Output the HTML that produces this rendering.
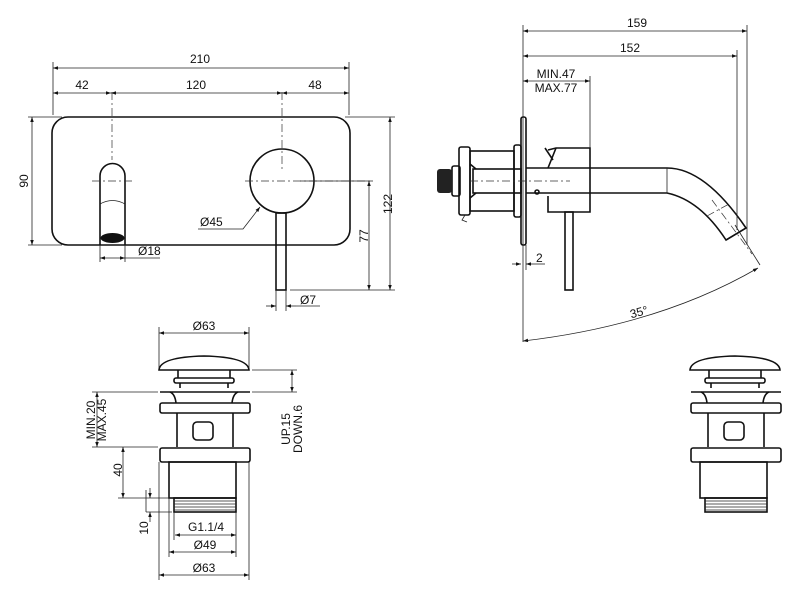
<!DOCTYPE html>
<html><head><meta charset="utf-8"><style>
html,body{margin:0;padding:0;background:#fff;}
svg{display:block;}
text{font-family:"Liberation Sans",sans-serif;font-size:12px;fill:#111;}
.m{fill:none;stroke:#111;stroke-width:1.6;}
.d{fill:none;stroke:#222;stroke-width:0.8;}
.c{fill:none;stroke:#333;stroke-width:0.7;stroke-dasharray:8 3 2 3;}
</style></head><body>
<svg width="800" height="600" viewBox="0 0 800 600" xmlns="http://www.w3.org/2000/svg">
<defs>
<marker id="a" viewBox="0 0 10 10" refX="10" refY="5" markerWidth="8" markerHeight="5" markerUnits="userSpaceOnUse" orient="auto-start-reverse"><path d="M0,1.5 L10,5 L0,8.5z" fill="#111"/></marker>
</defs>

<!-- FRONT VIEW -->
<rect class="m" x="52" y="117" width="298" height="128" rx="16"/>
<path class="m" d="M100,245 V176 A12.5,12.5 0 0 1 125,176 V245"/>
<path class="d" d="M100,204 Q112.5,197 125,204"/>
<ellipse cx="112.5" cy="238" rx="12" ry="5" fill="#111"/>
<circle class="m" cx="282" cy="181" r="32"/>
<rect class="m" x="276" y="213" width="10" height="77"/>
<path class="c" d="M112,92 V160 M92,181 H135 M282,92 V170 M245,181 H372"/>
<!-- dims -->
<path class="d" d="M53,62 V115 M349,62 V115"/>
<path class="d" d="M53,68 H349" marker-start="url(#a)" marker-end="url(#a)"/>
<path class="d" d="M53,93 H111" marker-start="url(#a)" marker-end="url(#a)"/>
<path class="d" d="M111,93 H282" marker-start="url(#a)" marker-end="url(#a)"/>
<path class="d" d="M282,93 H349" marker-start="url(#a)" marker-end="url(#a)"/>
<text x="200" y="63" text-anchor="middle">210</text>
<text x="82" y="89" text-anchor="middle">42</text>
<text x="196" y="89" text-anchor="middle">120</text>
<text x="315" y="89" text-anchor="middle">48</text>
<path class="d" d="M28,117 H62 M28,245 H62"/>
<path class="d" d="M32,117 V245" marker-start="url(#a)" marker-end="url(#a)"/>
<text transform="translate(28,181) rotate(-90)" text-anchor="middle">90</text>
<path class="d" d="M345,117 H395 M290,290 H395 M300,181 H373"/>
<path class="d" d="M390,117 V290" marker-start="url(#a)" marker-end="url(#a)"/>
<path class="d" d="M369,181 V290" marker-start="url(#a)" marker-end="url(#a)"/>
<text transform="translate(392,204) rotate(-90)" text-anchor="middle">122</text>
<text transform="translate(368,236) rotate(-90)" text-anchor="middle">77</text>
<path class="d" d="M198,229 H243 L260,207" marker-end="url(#a)"/>
<text x="200" y="226">Ø45</text>
<path class="d" d="M100,245 V262 M125,245 V262"/>
<path class="d" d="M100,258 H125" marker-start="url(#a)" marker-end="url(#a)"/>
<path class="d" d="M125,258 H160"/>
<text x="138" y="255">Ø18</text>
<path class="d" d="M276,290 V311 M286,290 V311"/>
<path class="d" d="M266,306 H276" marker-end="url(#a)"/>
<path class="d" d="M296,306 H286" marker-end="url(#a)"/>
<path class="d" d="M296,306 H320"/>
<text x="300" y="304">Ø7</text>

<!-- SIDE VIEW -->
<rect class="m" x="521" y="117" width="5" height="128" rx="2"/>
<rect class="m" x="514" y="145" width="7" height="72" rx="2"/>
<rect class="m" x="470" y="151" width="44" height="60"/>
<rect class="m" x="459" y="147" width="11" height="68" rx="2"/>
<rect class="m" x="473" y="169" width="48" height="24"/>
<path class="m" d="M470,164 L476,169 M470,198 L476,193"/>
<rect class="m" x="452" y="166" width="8" height="30" rx="2"/>
<rect x="437" y="169" width="15" height="24" rx="3" fill="#222"/>
<path class="d" d="M465,215 L462,220 L467,222"/>
<path class="m" d="M548,150 L556,148 H590 V212 H548 V196"/>
<path class="m" d="M548,168 L556,148 M545,148 L553,160"/>
<path class="m" d="M526,168 H667 Q705,168 746,228 L726,240 Q700,200 667,193 H526"/>
<path class="d" d="M667,168 V193"/>
<path class="m" d="M726,240 L746,228" stroke-width="2.5"/>
<rect class="m" x="565" y="212" width="8" height="78"/>
<path class="c" d="M470,181 H570 M712,200 L752,254 M707,216 L729,204"/>
<circle class="m" cx="537" cy="192" r="2"/>
<!-- side dims -->
<path class="d" d="M523,25 V342 M747,25 V245 M737,50 V230 M590,76 V148"/>
<path class="d" d="M523,31 H747" marker-start="url(#a)" marker-end="url(#a)"/>
<path class="d" d="M523,56 H737" marker-start="url(#a)" marker-end="url(#a)"/>
<path class="d" d="M523,81 H590" marker-start="url(#a)" marker-end="url(#a)"/>
<text x="637" y="27" text-anchor="middle">159</text>
<text x="630" y="52" text-anchor="middle">152</text>
<text x="556" y="78" text-anchor="middle">MIN.47</text>
<text x="556" y="92" text-anchor="middle">MAX.77</text>
<path class="d" d="M526,245 V270"/>
<path class="d" d="M512,264 H521" marker-end="url(#a)"/>
<path class="d" d="M536,264 H526" marker-end="url(#a)"/>
<path class="d" d="M536,264 H545"/>
<text x="536" y="262">2</text>
<path class="d" d="M523,341 Q660,325 758,268" marker-start="url(#a)" marker-end="url(#a)"/>
<path class="d" d="M735,225 L760,265"/>
<text x="640" y="316" transform="rotate(-15 640 316)" text-anchor="middle">35°</text>

<!-- DRAIN -->
<g id="drain">
<path class="m" d="M159,370 Q160,357 204,356 Q248,357 249,370 Z"/>
<path class="m" d="M178,370 V378 M230,370 V378"/>
<rect class="m" x="174" y="378" width="60" height="5" rx="2"/>
<path class="m" d="M180,383 V388 M228,383 V388"/>
<path class="m" d="M160,392 H250"/>
<path class="m" d="M170,392 Q175,394 176,403 M238,392 Q233,394 232,403"/>
<rect class="m" x="160" y="403" width="90" height="10" rx="2"/>
<path class="m" d="M177,413 V447 M233,413 V447"/>
<rect class="m" x="193" y="422" width="20" height="18" rx="4"/>
<rect class="m" x="160" y="448" width="90" height="14" rx="2"/>
<rect class="m" x="169" y="462" width="67" height="36"/>
<rect class="m" x="174" y="498" width="62" height="14"/>
<path class="d" d="M174,501 H236 M174,504 H236 M174,507 H236 M174,510 H236"/>
</g>
<use href="#drain" transform="translate(531,0)"/>
<!-- drain dims -->
<path class="d" d="M159,327 V368 M249,327 V368"/>
<path class="d" d="M159,333 H249" marker-start="url(#a)" marker-end="url(#a)"/>
<text x="204" y="330" text-anchor="middle">Ø63</text>
<path class="d" d="M92,392 H158 M92,447 H158 M118,447 H158 M118,498 H170 M146,490 V512 M146,512 H172"/>
<path class="d" d="M97,392 V447" marker-start="url(#a)" marker-end="url(#a)"/>
<text transform="translate(95,420) rotate(-90)" text-anchor="middle">MIN.20</text>
<text transform="translate(106,420) rotate(-90)" text-anchor="middle">MAX.45</text>
<path class="d" d="M123,447 V498" marker-start="url(#a)" marker-end="url(#a)"/>
<text transform="translate(122,470) rotate(-90)" text-anchor="middle">40</text>
<path class="d" d="M150,488 V498" marker-end="url(#a)"/>
<path class="d" d="M150,522 V512" marker-end="url(#a)"/>
<text transform="translate(148,528) rotate(-90)" text-anchor="middle">10</text>
<path class="d" d="M174,512 V540 M236,512 V557 M169,498 V557 M159,462 V580 M249,462 V580"/>
<path class="d" d="M175,535 H236" marker-start="url(#a)" marker-end="url(#a)"/>
<text x="206" y="531" text-anchor="middle">G1.1/4</text>
<path class="d" d="M169,552 H236" marker-start="url(#a)" marker-end="url(#a)"/>
<text x="205" y="549" text-anchor="middle">Ø49</text>
<path class="d" d="M159,575 H249" marker-start="url(#a)" marker-end="url(#a)"/>
<text x="204" y="572" text-anchor="middle">Ø63</text>
<path class="d" d="M252,370 H297 M252,392 H297"/>
<path class="d" d="M292,370 V392" marker-start="url(#a)" marker-end="url(#a)"/>
<text transform="translate(290,429) rotate(-90)" text-anchor="middle">UP.15</text>
<text transform="translate(302,429) rotate(-90)" text-anchor="middle">DOWN.6</text>
</svg>
</body></html>
